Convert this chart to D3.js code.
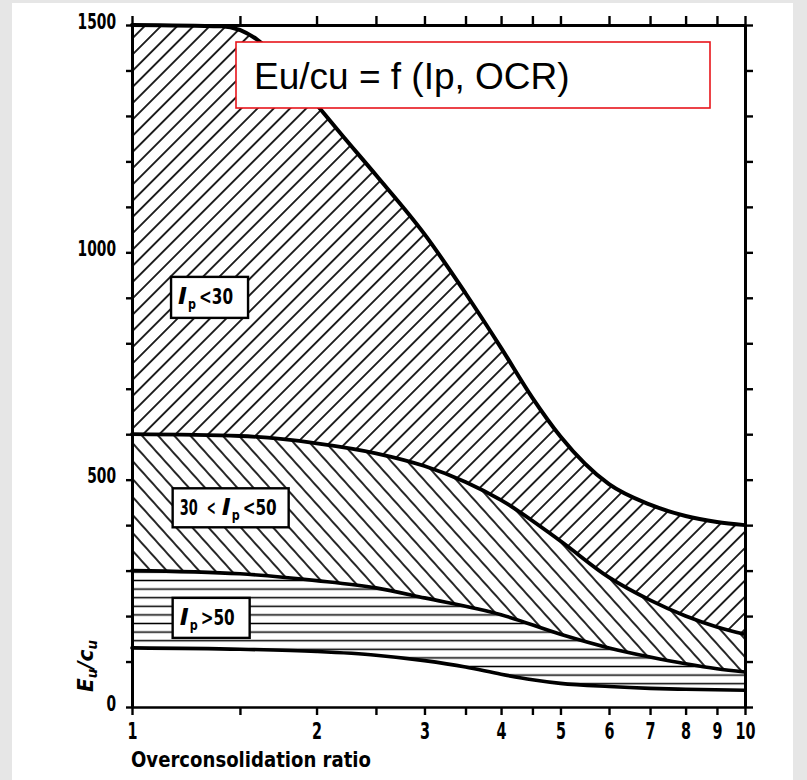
<!DOCTYPE html>
<html>
<head>
<meta charset="utf-8">
<script src="https://cdn.jsdelivr.net/npm/d3@7/dist/d3.min.js"></script>
<style>
  html, body { margin: 0; padding: 0; background: #e6e6e6; }
  svg { display: block; }
  .num { font-family: "DejaVu Sans Condensed", "DejaVu Sans", sans-serif; font-weight: bold; }
</style>
</head>
<body>
<svg id="chart" width="807" height="780"></svg>
<script>
// ---- data ----
const ocrTop   = [1, 1.4, 1.6, 1.8, 2.0, 2.2, 2.5, 3.0, 3.5, 4.0, 4.5, 5.0, 6.0, 7.0, 8.0, 9.0, 10];
const valTop   = [1500, 1497, 1468, 1400, 1325, 1258, 1170, 1040, 910, 790, 680, 595, 490, 445, 420, 407, 400];
const ocrMid   = [1, 1.5, 2.0, 2.5, 3.0, 3.5, 4.0, 5.0, 6.0, 7.0, 8.0, 9.0, 10];
const valMid   = [600, 596, 580, 558, 530, 495, 455, 365, 285, 235, 200, 176, 160];
const ocrLow   = [1, 1.5, 2.0, 2.5, 3.0, 4.0, 5.0, 6.0, 7.0, 8.0, 9.0, 10];
const valLow   = [300, 293, 278, 262, 240, 203, 160, 130, 110, 95, 84, 77];
const ocrBot   = [1, 1.5, 2.0, 2.5, 3.0, 3.5, 4.0, 4.5, 5.0, 6.0, 7.0, 8.0, 10];
const valBot   = [130, 127, 122, 114, 102, 88, 72, 60, 52, 45, 41, 39, 37];

const xTicks      = [1, 1.5, 2, 2.5, 3, 3.5, 4, 4.5, 5, 6, 7, 8, 9, 10];
const xTickLabels = [1, 2, 3, 4, 5, 6, 7, 8, 9, 10];
const yTicks      = [0, 100, 200, 300, 400, 500, 600, 700, 800, 900, 1000, 1100, 1200, 1300, 1400, 1500];
const yTickLabels = [0, 500, 1000, 1500];

const titleText = "Eu/cu = f (Ip, OCR)";
const xTitle = "Overconsolidation ratio";

// ---- layout ----
const svg = d3.select("#chart");
svg.append("rect").attr("x", 12).attr("y", 3).attr("width", 781).attr("height", 777).attr("fill", "#fff");

const x = d3.scaleLog().domain([1, 10]).range([132, 745]);
const y = d3.scaleLinear().domain([0, 1500]).range([707, 25]);

const zip = (a, b) => a.map((v, i) => [v, b[i]]);
const cTop = zip(ocrTop, valTop), cMid = zip(ocrMid, valMid), cLow = zip(ocrLow, valLow), cBot = zip(ocrBot, valBot);

const defs = svg.append("defs");
function hatch(id, angle, gap, sw) {
  const p = defs.append("pattern").attr("id", id).attr("patternUnits", "userSpaceOnUse")
    .attr("width", gap).attr("height", gap).attr("patternTransform", `rotate(${angle})`);
  p.append("rect").attr("width", gap).attr("height", gap).attr("fill", "#fff");
  p.append("line").attr("x1", gap / 2).attr("x2", gap / 2).attr("y1", -1).attr("y2", gap + 1)
    .attr("stroke", "#000").attr("stroke-width", sw);
}
hatch("h1", 45, 11.5, 1.7);
hatch("h2", -42, 12, 1.7);
hatch("h3", 90, 8.6, 1.5);

const line = d3.line().x(d => x(d[0])).y(d => y(d[1])).curve(d3.curveMonotoneX);
function bandPath(upper, lower) {
  const up = line(upper);
  const lowRev = line(lower.slice().reverse()).replace(/^M/, "L");
  return up + lowRev + "Z";
}
const g = svg.append("g");
g.append("path").attr("d", bandPath(cTop, cMid)).attr("fill", "url(#h1)");
g.append("path").attr("d", bandPath(cMid, cLow)).attr("fill", "url(#h2)");
g.append("path").attr("d", bandPath(cLow, cBot)).attr("fill", "url(#h3)");

[[cTop, 4], [cMid, 3.8], [cLow, 3.6], [cBot, 3.6]].forEach(([pts, w]) => {
  g.append("path").attr("d", line(pts)).attr("fill", "none").attr("stroke", "#000")
    .attr("stroke-width", w).attr("stroke-linecap", "round");
});

function styleAxis(sel, w) {
  sel.select(".domain").attr("stroke", "#000").attr("stroke-width", w);
  sel.selectAll(".tick line").attr("stroke", "#000").attr("stroke-width", 2.4);
}
function narrow(sel, perChar) {
  sel.each(function () {
    const t = d3.select(this), s = t.text();
    if (s.length) t.attr("textLength", s.length * perChar).attr("lengthAdjust", "spacingAndGlyphs");
  });
}
const fmtX = d => xTickLabels.includes(d) ? d : "";
const axB = svg.append("g").attr("transform", `translate(0,${y(0)})`)
  .call(d3.axisBottom(x).tickValues(xTicks).tickFormat(fmtX).tickSize(8).tickSizeOuter(0).tickPadding(8));
styleAxis(axB, 2.6);
axB.selectAll("text").attr("class", "num").attr("font-size", 23).attr("fill", "#000");
narrow(axB.selectAll("text"), 10);

const axT = svg.append("g").attr("transform", `translate(0,${y(1500)})`)
  .call(d3.axisTop(x).tickValues(xTicks).tickFormat("").tickSize(9).tickSizeOuter(0));
styleAxis(axT, 3);

const fmtY = d => yTickLabels.includes(d) ? d : "";
const axL = svg.append("g").attr("transform", `translate(${x(1)},0)`)
  .call(d3.axisLeft(y).tickValues(yTicks).tickFormat(fmtY).tickSize(6).tickSizeOuter(0).tickPadding(10));
styleAxis(axL, 3);
axL.selectAll("text").attr("class", "num").attr("font-size", 22).attr("fill", "#000").attr("dy", "0.15em");
narrow(axL.selectAll("text"), 9.6);

const axR = svg.append("g").attr("transform", `translate(${x(10)},0)`)
  .call(d3.axisRight(y).tickValues(yTicks).tickFormat("").tickSize(8).tickSizeOuter(0));
styleAxis(axR, 3);

function labelBox(bx, by, bw, bh, parts) {
  const gg = svg.append("g");
  gg.append("rect").attr("x", bx).attr("y", by).attr("width", bw).attr("height", bh)
    .attr("fill", "#fff").attr("stroke", "#000").attr("stroke-width", 2.4);
  let cx = bx + 7;
  const base = by + bh / 2 + 7;
  parts.forEach(p => {
    const t = gg.append("text").attr("class", "num").attr("x", cx).attr("y", base + (p.sub ? 5 : 0))
      .attr("font-size", p.sub ? 14 : (p.i ? 23 : 21)).attr("textLength", p.w)
      .attr("lengthAdjust", "spacingAndGlyphs").text(p.t);
    if (p.i) t.attr("font-style", "italic");
    cx += p.w + (p.gap || 0);
  });
}
labelBox(x(1.158), y(946), 77, 41, [{t: "I", i: 1, w: 9, gap: 1}, {t: "p", sub: 1, w: 8, gap: 3}, {t: "<30", w: 34}]);
labelBox(x(1.165), y(481), 116, 39, [{t: "30", w: 18, gap: 9}, {t: "<", w: 9, gap: 6}, {t: "I", i: 1, w: 9, gap: 1}, {t: "p", sub: 1, w: 8, gap: 3}, {t: "<50", w: 34}]);
labelBox(x(1.165), y(240), 77, 40, [{t: "I", i: 1, w: 9, gap: 1}, {t: "p", sub: 1, w: 8, gap: 3}, {t: ">50", w: 34}]);

svg.append("text").attr("class", "num").attr("x", 131).attr("y", 767).attr("font-size", 21)
  .attr("textLength", 240).attr("lengthAdjust", "spacingAndGlyphs").text(xTitle);
const yt = svg.append("text").attr("class", "num").attr("transform", "translate(93,666) rotate(-90)")
  .attr("x", -26).attr("font-size", 21).attr("font-style", "italic")
  .attr("textLength", 52).attr("lengthAdjust", "spacingAndGlyphs");
yt.append("tspan").text("E");
yt.append("tspan").text("u").attr("font-size", 14).attr("dy", 4);
yt.append("tspan").text("/c").attr("dy", -4);
yt.append("tspan").text("u").attr("font-size", 14).attr("dy", 4);

svg.append("rect").attr("x", 236).attr("y", 42).attr("width", 474).attr("height", 66)
  .attr("fill", "#fff").attr("stroke", "#e8141b").attr("stroke-width", 1.6);
svg.append("text").attr("x", 254).attr("y", 89).attr("font-family", "Liberation Sans, Arial, sans-serif")
  .attr("font-size", 37).attr("fill", "#000").text(titleText);
</script>
</body>
</html>
